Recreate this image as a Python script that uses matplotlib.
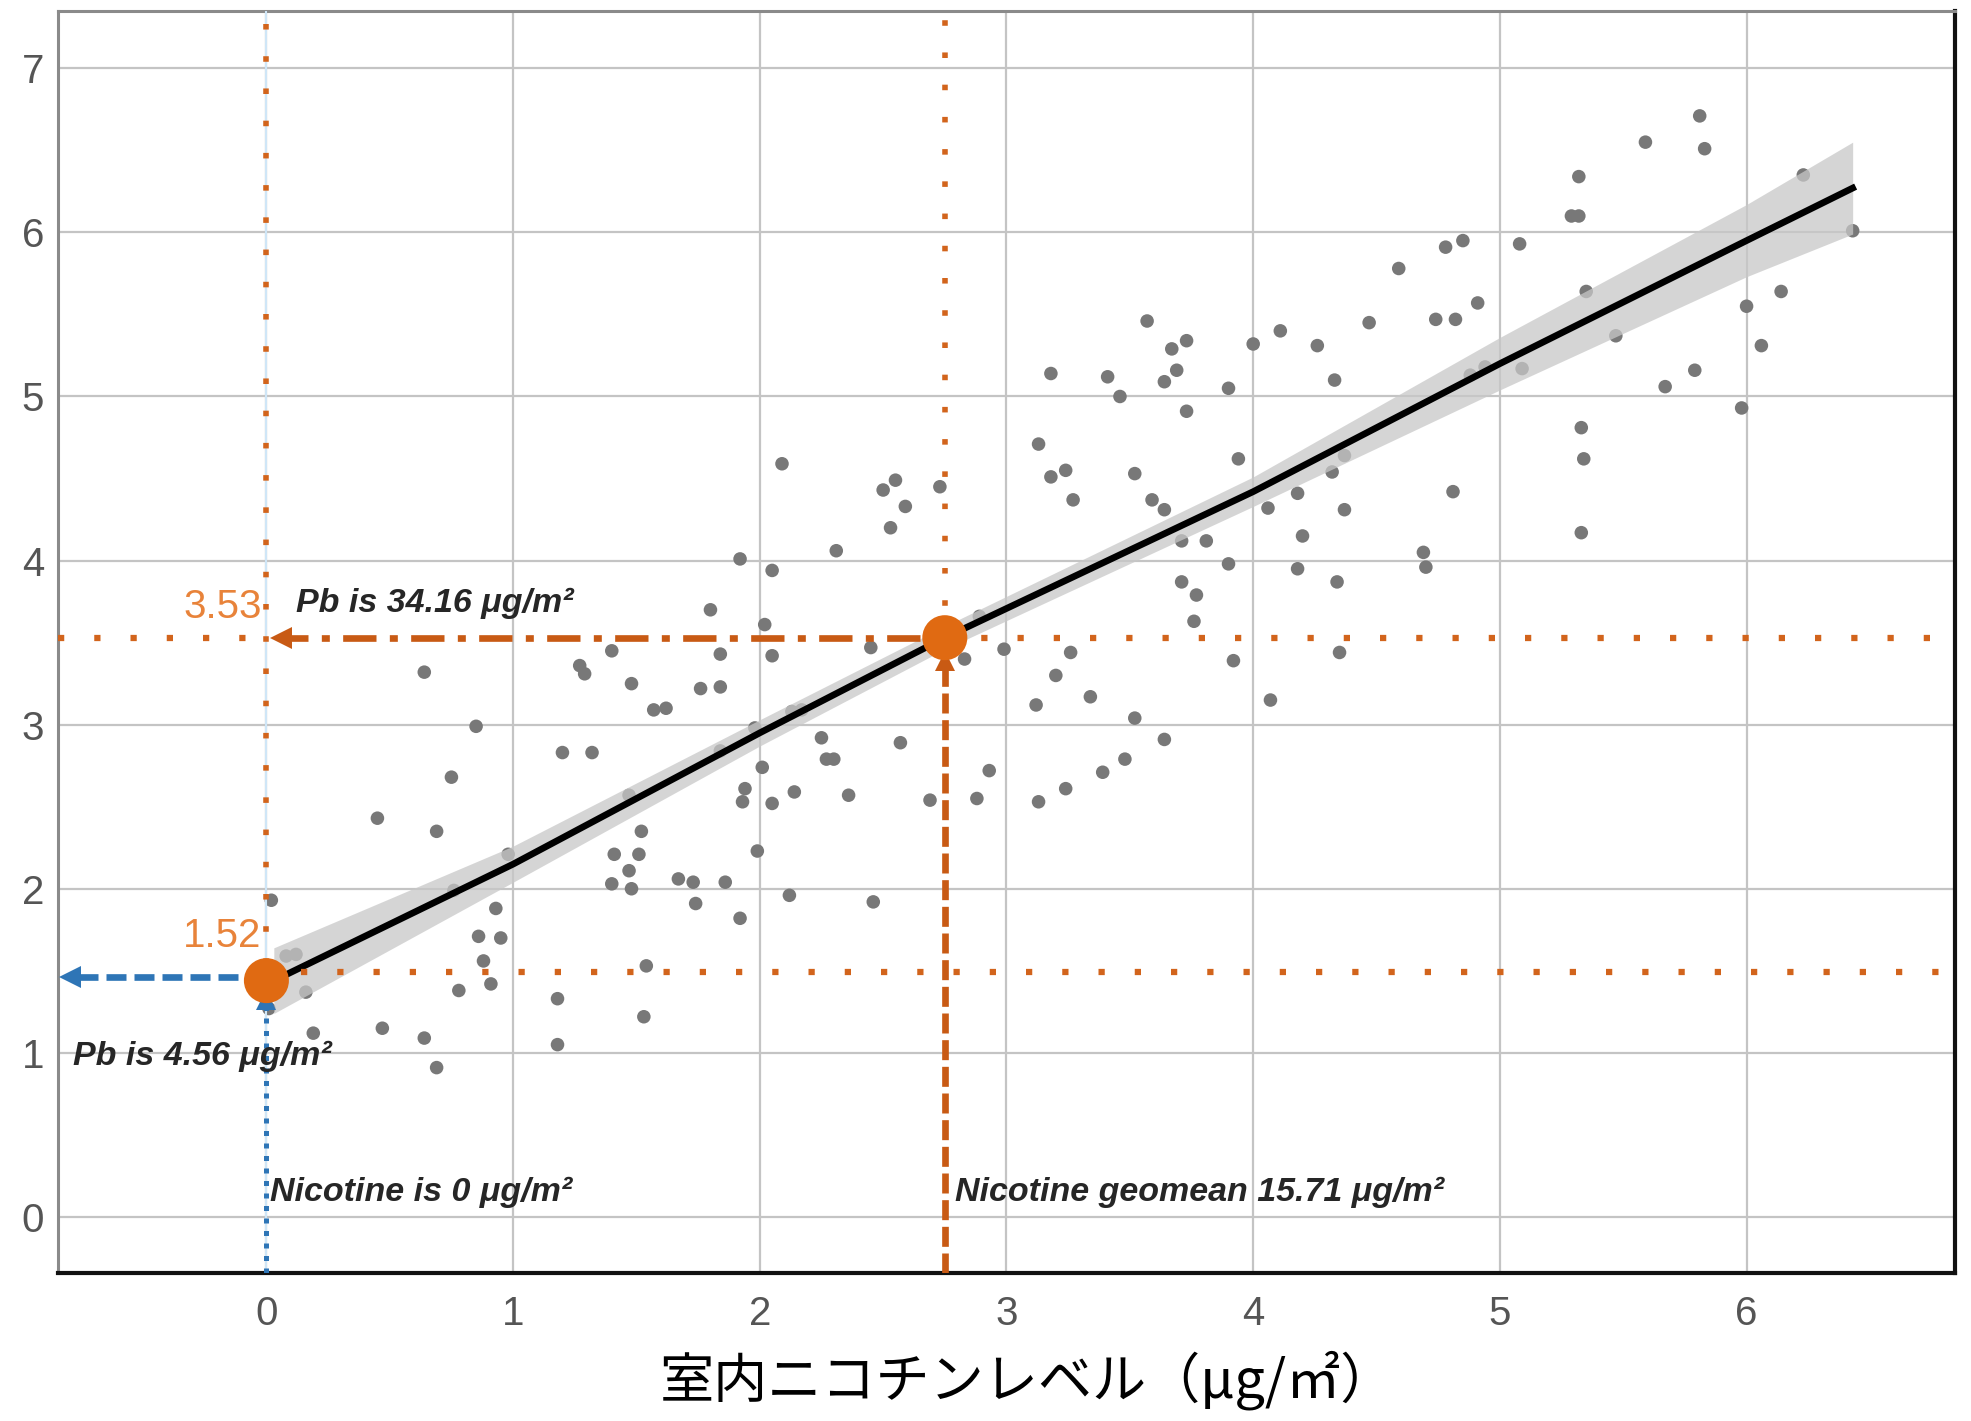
import matplotlib
matplotlib.use('Agg')
import matplotlib.pyplot as plt
import numpy as np

# scatter: indoor nicotine (x) vs Pb (y)
nic_x = [0.02, 0.08, 0.12, 0.16, 0.01, 0.19, 0.47, 0.64, 0.69, 0.45,
         0.69, 0.64, 0.85, 0.75, 0.86, 0.95, 0.93, 0.88, 0.91, 0.78,
         0.98, 0.76, 1.20, 1.32, 1.27, 1.29, 1.40, 1.48, 1.57, 1.62,
         1.41, 1.51, 1.47, 1.40, 1.48, 1.52, 1.47, 1.54, 1.53, 1.18,
         1.18, 1.67, 1.73, 1.74, 1.86, 1.92, 1.76, 1.84, 1.80, 1.84,
         1.84, 1.92, 1.94, 1.93, 1.98, 1.99, 2.02, 2.05, 2.05, 2.01,
         2.05, 2.09, 2.12, 2.13, 2.17, 2.14, 2.25, 2.27, 2.30, 2.31,
         2.36, 2.46, 2.45, 2.50, 2.55, 2.59, 2.53, 2.57, 2.69, 2.73,
         2.83, 2.88, 2.93, 2.99, 2.89, 3.13, 3.18, 3.24, 3.27, 3.18,
         3.41, 3.46, 3.57, 3.13, 3.24, 3.39, 3.48, 3.52, 3.12, 3.34,
         3.20, 3.26, 3.52, 3.59, 3.64, 3.64, 3.69, 3.67, 3.73, 3.73,
         3.71, 3.81, 3.71, 3.77, 3.76, 3.64, 3.90, 3.94, 3.90, 3.92,
         4.00, 4.11, 4.26, 4.33, 4.06, 4.18, 4.20, 4.18, 4.32, 4.37,
         4.37, 4.34, 4.35, 4.07, 4.47, 4.59, 4.74, 4.82, 4.78, 4.85,
         4.91, 4.81, 4.69, 4.70, 4.88, 4.94, 5.08, 5.09, 5.32, 5.29,
         5.32, 5.35, 5.47, 5.33, 5.34, 5.33, 5.59, 5.81, 5.83, 5.79,
         5.67, 5.98, 6.00, 6.06, 6.14, 6.23, 6.43]
pb_y = [1.93, 1.59, 1.60, 1.37, 1.27, 1.12, 1.15, 1.09, 0.91, 2.43,
        2.35, 3.32, 2.99, 2.68, 1.71, 1.70, 1.88, 1.56, 1.42, 1.38,
        2.21, 1.99, 2.83, 2.83, 3.36, 3.31, 3.45, 3.25, 3.09, 3.10,
        2.21, 2.21, 2.11, 2.03, 2.00, 2.35, 2.57, 1.53, 1.22, 1.33,
        1.05, 2.06, 2.04, 1.91, 2.04, 1.82, 3.22, 3.23, 3.70, 3.43,
        2.84, 4.01, 2.61, 2.53, 2.98, 2.23, 3.61, 3.94, 3.42, 2.74,
        2.52, 4.59, 1.96, 3.08, 3.09, 2.59, 2.92, 2.79, 2.79, 4.06,
        2.57, 1.92, 3.47, 4.43, 4.49, 4.33, 4.20, 2.89, 2.54, 4.45,
        3.40, 2.55, 2.72, 3.46, 3.66, 4.71, 4.51, 4.55, 4.37, 5.14,
        5.12, 5.00, 5.46, 2.53, 2.61, 2.71, 2.79, 3.04, 3.12, 3.17,
        3.30, 3.44, 4.53, 4.37, 4.31, 5.09, 5.16, 5.29, 5.34, 4.91,
        4.12, 4.12, 3.87, 3.79, 3.63, 2.91, 5.05, 4.62, 3.98, 3.39,
        5.32, 5.40, 5.31, 5.10, 4.32, 4.41, 4.15, 3.95, 4.54, 4.64,
        4.31, 3.87, 3.44, 3.15, 5.45, 5.78, 5.47, 5.47, 5.91, 5.95,
        5.57, 4.42, 4.05, 3.96, 5.13, 5.18, 5.93, 5.17, 6.34, 6.10,
        6.10, 5.64, 5.37, 4.81, 4.62, 4.17, 6.55, 6.71, 6.51, 5.16,
        5.06, 4.93, 5.55, 5.31, 5.64, 6.35, 6.01]

# fitted line and its confidence band (half width)
fit_x = [0.03, 1.0, 2.0, 2.75, 4.0, 5.0, 6.0, 6.43]
fit_y = [1.44, 2.15, 2.95, 3.53, 4.42, 5.20, 5.95, 6.27]
band_half = [0.20, 0.11, 0.08, 0.07, 0.09, 0.16, 0.22, 0.28]

# reference points
nic_zero = 0.0
nic_geomean = 2.75
pb_low = 1.49      # height of the lower dotted guide
pb_low_dot = 1.44
pb_high = 3.53
pb_blue = 1.46
low_label = '1.52'
high_label = '3.53'

x_ticks = [0, 1, 2, 3, 4, 5, 6]
y_ticks = [0, 1, 2, 3, 4, 5, 6, 7]

ORANGE = '#D2641C'
ORANGE_DOT = '#E06A12'
ORANGE_TXT = '#E8833A'
BLUE = '#2E75B6'

fig = plt.figure(figsize=(19.71, 14.21), dpi=100)
ax = fig.add_axes([0.0294, 0.104, 0.9625, 0.888])
xmin, xmax = -0.845, 6.845
ymin, ymax = -0.343, 7.347
ax.set_xlim(xmin, xmax)
ax.set_ylim(ymin, ymax)

ax.set_xticks(x_ticks)
ax.set_yticks(y_ticks)
ax.grid(True, color='#c4c4c4', linewidth=1.6, zorder=0)
ax.set_axisbelow(True)
ax.tick_params(length=0, labelsize=29, labelcolor='#555555', pad=16)
for lab in ax.get_xticklabels() + ax.get_yticklabels():
    lab.set_fontfamily('Liberation Sans')
ax.tick_params(axis='y', pad=10)

for side in ['top', 'left']:
    ax.spines[side].set_color('#8a8a8a')
    ax.spines[side].set_linewidth(2.2)
for side in ['bottom', 'right']:
    ax.spines[side].set_color('#111111')
    ax.spines[side].set_linewidth(3.0)

# points, band and fitted line
ax.scatter(nic_x, pb_y, s=95, color='#787878', edgecolors='none', zorder=2)
fx = np.array(fit_x)
fy = np.array(fit_y)
hw = np.array(band_half)
ax.fill_between(fx, fy - hw, fy + hw, color='#c8c8c8', alpha=0.75,
                linewidth=0, zorder=3)
ax.plot(fx, fy, color='black', linewidth=4.8, zorder=4)

# horizontal dotted guides
dot_style = dict(color=ORANGE, linewidth=4.5, dashes=(1, 4.8), zorder=5)
ax.plot([xmin, nic_zero], [pb_high, pb_high], **dot_style)
ax.plot([nic_geomean, xmax], [pb_high, pb_high], **dot_style)
ax.plot([nic_zero + 0.14, xmax], [pb_low, pb_low], **dot_style)

# vertical dotted guides
vdot = dict(color=ORANGE, linewidth=4.0, dashes=(1, 4.8), zorder=5)
ax.plot([nic_zero, nic_zero], [ymin, ymax], color='#cfe6f7', linewidth=1.5, zorder=4)
ax.plot([nic_zero, nic_zero], [pb_low + 0.05, ymax], **vdot)
ax.plot([nic_geomean, nic_geomean], [pb_high, ymax], **vdot)

# dash-dot arrow back to the Pb axis at the geomean
ax.plot([nic_geomean - 0.1, nic_zero + 0.08], [pb_high, pb_high], color='#C85A14',
        linewidth=4.8, dashes=(5, 2, 1.2, 2), zorder=6)
ax.plot([nic_zero + 0.06], [pb_high], marker='<', markersize=16, color='#C85A14',
        markeredgewidth=0, zorder=6)

# dashed line down from the geomean dot
ax.plot([nic_geomean, nic_geomean], [ymin, pb_high - 0.12], color='#C85A14',
        linewidth=4.8, dashes=(3, 1), zorder=6)
ax.plot([nic_geomean], [pb_high - 0.14], marker='^', markersize=14, color='#C85A14',
        markeredgewidth=0, zorder=6)

# blue arrows at nicotine = 0
ax.plot([nic_zero, xmin + 0.06], [pb_blue, pb_blue], color=BLUE, linewidth=4.8,
        dashes=(3, 1.2), zorder=6)
ax.plot([xmin + 0.05], [pb_blue], marker='<', markersize=16, color=BLUE,
        markeredgewidth=0, zorder=6)
ax.plot([nic_zero, nic_zero], [ymin, pb_low_dot - 0.12], color=BLUE, linewidth=3.6,
        dashes=(1, 1.5), zorder=6)
ax.plot([nic_zero], [pb_low_dot - 0.12], marker='^', markersize=14, color=BLUE,
        markeredgewidth=0, zorder=6)

# orange dots
ax.scatter([nic_zero, nic_geomean], [pb_low_dot, pb_high], s=1050, color=ORANGE_DOT,
           edgecolors='none', zorder=7)

# labels
ax.text(-0.02, 3.72, high_label, ha='right', va='center', fontsize=29,
        color=ORANGE_TXT, family='Liberation Sans', zorder=8)
ax.text(-0.02, 1.71, low_label, ha='right', va='center', fontsize=29,
        color=ORANGE_TXT, family='Liberation Sans', zorder=8)

note = dict(fontsize=24.5, fontweight='bold', fontstyle='italic', color='#262626',
            family='Liberation Sans', va='center', zorder=8)
ax.text(0.12, 3.74, 'Pb is 34.16 μg/m²', ha='left', **note)
ax.text(-0.785, 0.98, 'Pb is 4.56 μg/m²', ha='left', **note)
ax.text(0.015, 0.15, 'Nicotine is 0 μg/m²', ha='left', **note)
ax.text(2.79, 0.15, 'Nicotine geomean 15.71 μg/m²', ha='left', **note)

ax.set_xlabel('室内ニコチンレベル（μg/㎡）', fontsize=39, color='black',
              family=['Noto Sans CJK JP', 'DejaVu Sans'])
ax.xaxis.set_label_coords(0.511, -0.061)

fig.savefig('out.png', dpi=100, facecolor='white')
